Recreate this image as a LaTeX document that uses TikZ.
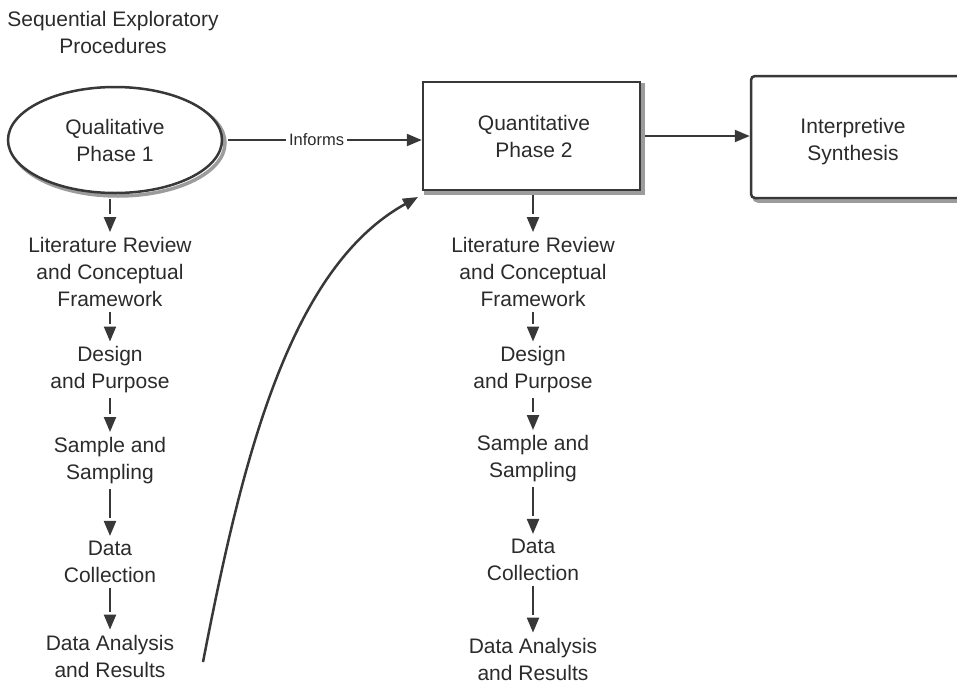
\documentclass[tikz,border=0pt]{standalone}
\usepackage{fontspec}
\setmainfont{Liberation Sans}
\usetikzlibrary{arrows.meta,shapes.geometric,backgrounds}
\definecolor{ink}{HTML}{383838}
\definecolor{txt}{HTML}{2B2B2B}
\definecolor{shade}{HTML}{9C9C9C}
\begin{document}
\begin{tikzpicture}[x=1pt,y=-1pt,
  every node/.style={text=txt, font=\fontsize{21pt}{27pt}\selectfont,
                     align=center, inner sep=0pt},
  head/.tip={Triangle[length=15pt,width=12pt]},
  phaseoval/.style={ellipse, draw=ink, line width=2.5pt, fill=white,
                    minimum width=214pt, minimum height=106pt},
  phasebox/.style={rectangle, draw=ink, line width=2.5pt, fill=white,
                   minimum width=217pt, minimum height=108pt},
  synthframe/.style={rectangle, rounded corners=4pt, draw=ink, line width=2.5pt,
                     fill=white, minimum width=214pt, minimum height=122pt},
  shadowline/.style={draw=shade, line width=3.5pt},
  stepnode/.style={inner ysep=5pt},
  link/.style={draw=ink, line width=2.2pt, -head},
  % drawn from the target back to the source, so the short gap of the
  % dash pattern sits right behind the arrow head
  flow/.style={draw=ink, line width=2.2pt, head-, dash pattern=on 0pt off 3.5pt on 400pt},
]
\useasboundingbox (0,0) rectangle (957,683);
\clip (0,0) rectangle (957,683);

% heading
\node (title) at (113,32) {Sequential Exploratory\\Procedures};

% phases
\node[phaseoval] (qual) at (115,140) {Qualitative\\Phase 1};
\node[phasebox] (quant) at (531.5,136) {\hspace*{5pt}Quantitative\\\hspace*{5pt}Phase 2};
\node[synthframe] (synthbox) at (858,137) {};
\node (synth) at (853,141.5) {Interpretive\\Synthesis};

% shadows behind the phase shapes
\begin{scope}[on background layer]
  \draw[shadowline] (118,143) ellipse [x radius=107, y radius=53];
  \draw[shadowline] (426,85) rectangle (643,193);
  \draw[shadowline, rounded corners=4pt] (754,79) rectangle (968,201);
\end{scope}

% qualitative strand
\node[stepnode] (lit1) at (110,272) {Literature Review\\and Conceptual\\Framework};
\node[stepnode] (des1) at (110,370) {Design\\and Purpose};
\node[stepnode] (sam1) at (110,460.5) {Sample and\\Sampling};
\node[stepnode] (col1) at (110,562) {Data\\Collection};
\node[stepnode] (ana1) at (110,656) {Data Analysis\\and Results};

% quantitative strand
\node[stepnode] (lit2) at (533,272) {Literature Review\\and Conceptual\\Framework};
\node[stepnode] (des2) at (533,370) {Design\\and Purpose};
\node[stepnode] (sam2) at (533,458.5) {Sample and\\Sampling};
\node[stepnode] (col2) at (533,560) {Data\\Collection};
\node[stepnode] (ana2) at (533,659) {Data Analysis\\and Results};

% vertical steps
\draw[flow, shorten >=5pt] (lit1.north) -- (lit1.north |- qual.south);
\draw[flow] (des1.north) -- (lit1.south);
\draw[flow] (sam1.north) -- (des1.south);
\draw[flow] (col1.north) -- (sam1.south);
\draw[flow] (ana1.north) -- (col1.south);

\draw[flow, shorten >=4pt] (lit2.north) -- (lit2.north |- quant.south);
\draw[flow] (des2.north) -- (lit2.south);
\draw[flow] (sam2.north) -- (des2.south);
\draw[flow] (col2.north) -- (sam2.south);
\draw[flow] (ana2.north) -- (col2.south);

% links between the phases
\draw[link, shorten <=5pt] (qual.east) -- (qual.east -| quant.west)
  node[pos=0.47, fill=white, inner xsep=3pt, inner ysep=2pt,
       font=\fontsize{16.5pt}{18pt}\selectfont] (informs) {Informs};
\draw[link, shorten <=4pt] (quant.east) -- (quant.east -| synthbox.west);

% results of phase 1 feed back into phase 2
\coordinate (fbstart) at (203,662);
\coordinate (fbend) at (418,197);
\draw[link, line width=2.5pt] (fbstart) .. controls (241,466) and (287.5,269) .. (fbend);
\end{tikzpicture}
\end{document}
